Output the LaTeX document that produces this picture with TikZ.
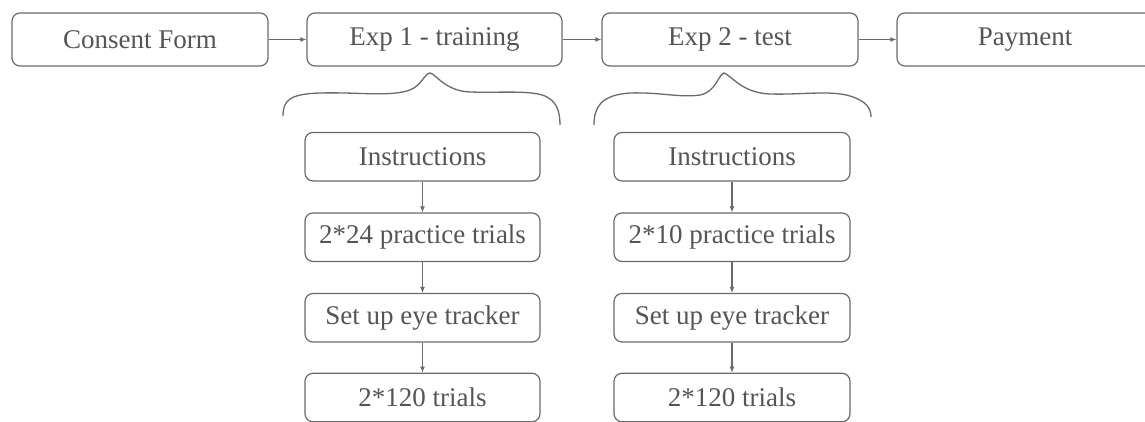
\documentclass[tikz,border=0pt]{standalone}
\usepackage{fontspec}
\setmainfont{Liberation Serif}
\usetikzlibrary{arrows.meta}
\definecolor{linegray}{HTML}{6A6A6A}
\definecolor{textgray}{HTML}{555555}
\tikzset{
  box/.style={draw=linegray, line width=1.2pt, rounded corners=8pt, text=textgray,
    inner sep=0pt, font=\fontsize{27}{32}\selectfont},
  topbox/.style={box, minimum width=256pt, minimum height=53pt},
  subbox/.style={box, minimum width=235pt, minimum height=48.5pt},
  conn/.style={draw=linegray, line width=1.1pt, -{Latex[length=6pt,width=5pt]}},
  brace/.style={draw=linegray, line width=1.3pt}
}
\begin{document}
\begin{tikzpicture}[x=1pt,y=-1pt]
\clip (0,0) rectangle (1145,422);
\fill[white] (0,0) rectangle (1145,422);
% top row
\node[topbox] (consent) at (140,39.5) {Consent Form};
\node[topbox, minimum width=255pt] (exp1) at (434.5,39.5) {Exp 1 - training};
\node[topbox] (exp2) at (730,39.5) {Exp 2 - test};
\node[topbox] (pay) at (1025,39.5) {Payment};
\draw[conn] (consent) -- (exp1);
\draw[conn] (exp1) -- (exp2);
\draw[conn] (exp2) -- (pay);
% braces
\draw[brace] (283,116) .. controls (283,100) and (290,94) .. (320,93)
  .. controls (360,92) and (390,97) .. (410,90)
  .. controls (422,85) and (424,74) .. (430,73)
  .. controls (436,74) and (445,91) .. (470,92)
  .. controls (500,93) and (530,90) .. (545,96)
  .. controls (556,101) and (560,110) .. (560,125);
\draw[brace] (594,125) .. controls (594,108) and (600,95) .. (630,93)
  .. controls (660,92) and (680,98) .. (700,95)
  .. controls (716,92) and (718,75) .. (724,73)
  .. controls (732,76) and (742,93) .. (770,94)
  .. controls (800,95) and (830,90) .. (850,96)
  .. controls (866,101) and (871,108) .. (871,117);
% left column
\node[subbox] (l1) at (422.5,156.7) {Instructions};
\node[subbox] (l2) at (422.5,237.2) {2*24 practice trials};
\node[subbox] (l3) at (422.5,317.8) {Set up eye tracker};
\node[subbox] (l4) at (422.5,397.5) {2*120 trials};
\draw[conn] (l1) -- (l2);
\draw[conn] (l2) -- (l3);
\draw[conn] (l3) -- (l4);
% right column
\node[subbox, minimum width=236pt] (r1) at (732,156.7) {Instructions};
\node[subbox, minimum width=236pt] (r2) at (732,237.2) {2*10 practice trials};
\node[subbox, minimum width=236pt] (r3) at (732,317.8) {Set up eye tracker};
\node[subbox, minimum width=236pt] (r4) at (732,397.5) {2*120 trials};
\draw[conn] (r1) -- (r2);
\draw[conn] (r2) -- (r3);
\draw[conn] (r3) -- (r4);
\end{tikzpicture}
\end{document}
